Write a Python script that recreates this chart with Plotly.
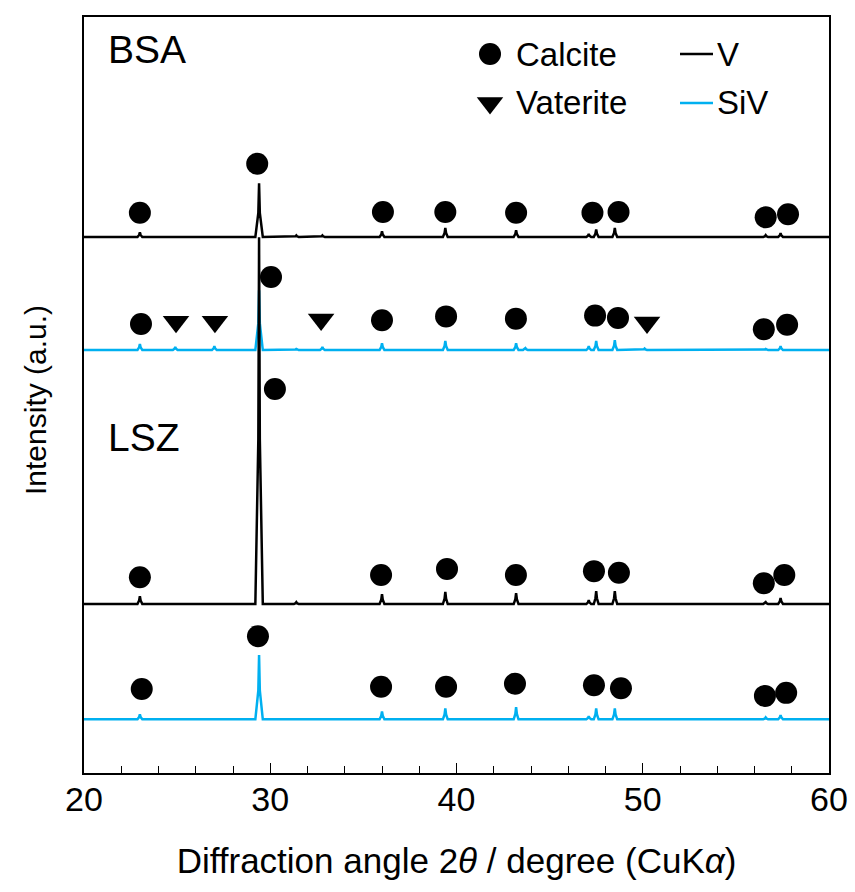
import plotly.graph_objects as go

# ---------------- data ----------------
# y axis in arbitrary intensity units (0..100), traces are offset
x_range = [20, 60]
y_range = [0, 100]

# baselines (offsets) of the four patterns
offset_bsa_v = 70.9
offset_bsa_siv = 55.95
offset_lsz_v = 22.35
offset_lsz_siv = 7.1

# peak centres (2theta) and heights (a.u.) for each pattern
bsa_v_pos = [23.0, 29.4, 31.4, 32.8, 36.0, 39.4, 43.2, 47.1, 47.5, 48.5, 56.6, 57.4]
bsa_v_h = [0.6, 7.1, 0.2, 0.2, 0.75, 1.2, 0.9, 0.4, 1.0, 1.2, 0.25, 0.5]

bsa_siv_pos = [23.0, 24.9, 27.0, 29.4, 31.4, 32.8, 36.0, 39.4, 43.2, 43.7, 47.1, 47.5, 48.5, 50.1, 56.6, 57.4]
bsa_siv_h = [0.8, 0.4, 0.5, 7.9, 0.15, 0.4, 0.9, 1.2, 0.9, 0.25, 0.5, 1.2, 1.3, 0.2, 0.15, 0.5]

lsz_v_pos = [23.0, 29.4, 31.4, 36.0, 39.4, 43.2, 47.1, 47.5, 48.5, 56.6, 57.4]
lsz_v_h = [1.05, 48.5, 0.25, 1.3, 1.6, 1.45, 0.5, 1.7, 1.7, 0.25, 0.8]

lsz_siv_pos = [23.0, 29.4, 36.0, 39.4, 43.2, 47.1, 47.5, 48.5, 56.6, 57.4]
lsz_siv_h = [0.65, 8.5, 1.05, 1.45, 1.6, 0.4, 1.45, 1.45, 0.25, 0.55]

# phase marker positions (2theta, intensity)
calcite_x = [23.0, 29.3, 36.05, 39.4, 43.2, 47.3, 48.7, 56.6, 57.8,
             23.06, 30.04, 36.0, 39.44, 43.19, 47.44, 48.67, 56.5, 57.75,
             23.0, 30.25, 35.95, 39.49, 43.19, 47.38, 48.72, 56.5, 57.6,
             23.1, 29.34, 35.95, 39.44, 43.14, 47.38, 48.83, 56.56, 57.7]
calcite_y = [74.1, 80.6, 74.2, 74.2, 74.1, 74.1, 74.2, 73.5, 73.9,
             59.4, 65.6, 59.9, 60.4, 60.1, 60.5, 60.2, 58.7, 59.3,
             25.9, 50.8, 26.2, 27.0, 26.2, 26.7, 26.5, 25.1, 26.2,
             11.1, 18.1, 11.4, 11.4, 11.8, 11.6, 11.2, 10.2, 10.6]
vaterite_x = [24.94, 27.03, 32.73, 50.23]
vaterite_y = [59.7, 59.7, 60.0, 59.6]

BLUE = "#00B0F0"
BLACK = "#000000"
FONT = "Liberation Sans, Arial, sans-serif"


def pattern(offset, pos, h):
    xs = [x_range[0]]
    ys = [offset]
    for p, hh in sorted(zip(pos, h)):
        w = 0.2 if hh > 5 else 0.13
        xs += [p - w, p - 0.04, p, p + 0.04, p + w]
        ys += [offset, offset + hh * 0.45, offset + hh, offset + hh * 0.45, offset]
    xs.append(x_range[1])
    ys.append(offset)
    return xs, ys


fig = go.Figure()

series = [
    (offset_bsa_v, bsa_v_pos, bsa_v_h, BLACK),
    (offset_bsa_siv, bsa_siv_pos, bsa_siv_h, BLUE),
    (offset_lsz_siv, lsz_siv_pos, lsz_siv_h, BLUE),
    (offset_lsz_v, lsz_v_pos, lsz_v_h, BLACK),
]
for off, pos, h, col in series:
    xs, ys = pattern(off, pos, h)
    fig.add_trace(go.Scatter(x=xs, y=ys, mode="lines",
                             line=dict(color=col, width=2.5), showlegend=False,
                             hoverinfo="skip"))

fig.add_trace(go.Scatter(x=calcite_x, y=calcite_y, mode="markers",
                         marker=dict(symbol="circle", size=22, color=BLACK),
                         showlegend=False))
fig.add_trace(go.Scatter(x=vaterite_x, y=vaterite_y, mode="markers",
                         marker=dict(symbol="triangle-down", size=23, color=BLACK),
                         showlegend=False))

# ---------------- layout ----------------
L, R, T, B = 84, 829, 17, 773
W, H = 855, 892


def px(xp):
    return (xp - L) / (R - L)


def py(yp):
    return (B - yp) / (B - T)


fig.update_layout(
    width=W, height=H,
    margin=dict(l=L, r=W - R, t=T, b=H - B, autoexpand=False),
    paper_bgcolor="white", plot_bgcolor="white",
    font=dict(family=FONT, color="black"),
    showlegend=False,
)
fig.update_xaxes(
    range=x_range, showgrid=False, zeroline=False, automargin=False,
    showline=True, linecolor="black", linewidth=1.8, mirror=True,
    ticks="inside", ticklen=10, tickwidth=1.3, tickcolor="black",
    tick0=20, dtick=10,
    minor=dict(ticks="inside", ticklen=7, tickwidth=1.3, tickcolor="black", dtick=2),
    tickfont=dict(size=34, family=FONT), ticklabelstandoff=-5,
    title=dict(text="Diffraction angle 2<i>θ</i> / degree (CuK<i>α</i>)",
               font=dict(size=35, family=FONT), standoff=32),
)
fig.update_yaxes(
    range=y_range, showgrid=False, zeroline=False, automargin=False,
    showline=True, linecolor="black", linewidth=1.8, mirror=True,
    showticklabels=False, ticks="",
)

ann = [
    dict(text="BSA", x=px(106), y=py(50), size=39),
    dict(text="LSZ", x=px(106), y=py(437), size=39),
    dict(text="Calcite", x=px(514), y=py(54), size=33),
    dict(text="Vaterite", x=px(514), y=py(103), size=33),
    dict(text="V", x=px(715), y=py(54), size=33),
    dict(text="SiV", x=px(715), y=py(103), size=33),
]
for a in ann:
    fig.add_annotation(xref="paper", yref="paper", x=a["x"], y=a["y"],
                       text=a["text"], showarrow=False, xanchor="left",
                       yanchor="middle", font=dict(size=a["size"], family=FONT))
fig.add_annotation(xref="paper", yref="paper", x=px(35), y=py(400),
                   text="Intensity (a.u.)", textangle=-90, showarrow=False,
                   xanchor="center", yanchor="middle",
                   font=dict(size=30, family=FONT))

# legend symbols
fig.add_trace(go.Scatter(x=[px(490)], y=[py(54)], xaxis="x2", yaxis="y2",
                         mode="markers", marker=dict(symbol="circle", size=22, color=BLACK),
                         showlegend=False, hoverinfo="skip"))
fig.add_trace(go.Scatter(x=[px(490)], y=[py(103)], xaxis="x2", yaxis="y2",
                         mode="markers", marker=dict(symbol="triangle-down", size=23, color=BLACK),
                         showlegend=False, hoverinfo="skip"))
fig.update_layout(
    xaxis2=dict(overlaying="x", range=[0, 1], visible=False),
    yaxis2=dict(overlaying="y", range=[0, 1], visible=False),
)
fig.add_shape(type="line", xref="paper", yref="paper",
              x0=px(680), x1=px(713), y0=py(54), y1=py(54),
              line=dict(color=BLACK, width=2.5))
fig.add_shape(type="line", xref="paper", yref="paper",
              x0=px(680), x1=px(713), y0=py(103), y1=py(103),
              line=dict(color=BLUE, width=2.5))

fig.write_html("out.html")
